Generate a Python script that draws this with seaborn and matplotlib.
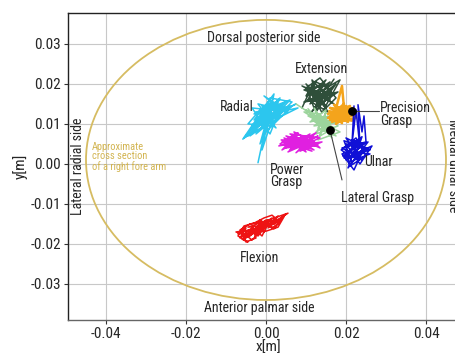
import numpy as np
import pandas as pd
import seaborn as sns
import matplotlib
import matplotlib.pyplot as plt
from matplotlib.patches import Ellipse
from matplotlib import font_manager

sns.set_style("whitegrid")
names = {f.name for f in font_manager.fontManager.ttflist}
fam = [f for f in ["Liberation Sans Narrow", "Roboto Condensed", "Open Sans Condensed", "Liberation Sans"] if f in names]
plt.rcParams["font.family"] = fam + ["DejaVu Sans"]

# trajectories (mm)
flex_x = [-7.0,-5.0,-6.5,-3.0,-5.5,-1.5,-4.0,0.0,-3.0,1.5,-1.0,3.0,0.5,5.0,2.0,4.0,-0.5,1.0,-2.5,-0.5,-4.5,-2.0,-6.0,-3.5,-1.0,-5.0,-7.5,-4.0,-2.0,0.0,2.5,0.0,-2.0,-4.5,5.5,1.0,
          -1.5,-4.0,-6.5,-5.0,-2.5,-3.5,-0.5,-1.5,1.5,3.5,1.5,-0.5,-3.0,-5.5,-7.0,-4.5,-6.0,-3.0,-1.0,0.5,2.0,4.5,3.0,0.0,-2.5,-4.5,-5.5]
flex_y = [-17.5,-16.0,-18.5,-15.5,-19.0,-15.0,-18.0,-14.5,-17.0,-13.5,-16.5,-13.0,-16.0,-12.5,-15.0,-13.8,-15.5,-14.0,-17.5,-15.0,-17.0,-16.0,-17.0,-19.0,-16.5,-18.0,-17.0,-16.5,-18.0,-15.5,-14.5,-14.0,-15.5,-15.8,-12.3,-15.2,
          -14.5,-15.0,-16.5,-19.5,-18.5,-16.0,-17.0,-14.0,-16.0,-14.5,-12.8,-13.5,-14.8,-15.5,-18.0,-19.5,-18.8,-16.2,-18.0,-15.0,-16.2,-13.2,-15.8,-16.8,-16.8,-18.2,-16.0]

rad_x = [-2.0,0.5,-4.5,3.0,-1.0,5.0,-3.0,2.0,0.0,6.5,-2.5,4.0,-5.5,1.0,-1.5,3.5,-3.5,7.5,0.0,2.5,-2.0,4.5,-4.0,1.5,-1.0,2.0,-3.0,6.0,0.5,-2.5,3.0,-0.5,5.5,-3.5,1.0,4.0,-1.5,8.0,
         3.0,-1.0,1.5,-4.5,-1.5,2.5,0.0,-3.0,-0.5,5.0,2.0,-2.0,1.0,6.5,3.5,-4.0,0.5,-1.0,-5.8,-2.5]
rad_y = [0.3,12.0,7.0,16.0,9.0,15.5,11.0,17.5,8.0,14.5,13.0,12.0,6.5,14.0,5.0,16.5,9.5,15.0,11.0,9.0,15.0,13.5,8.5,16.0,3.5,12.5,12.5,16.0,10.0,7.5,14.0,17.0,13.0,14.0,7.5,15.0,12.0,14.0,
         11.5,14.5,9.5,10.0,13.5,15.5,14.0,8.0,11.5,14.0,10.5,9.5,16.5,15.5,12.5,7.0,13.0,10.0,6.2,11.0]

ext_x = [9.0,12.0,10.0,15.0,11.0,17.5,12.5,14.0,9.5,16.0,11.5,13.0,18.0,10.5,15.5,12.0,17.0,9.0,14.5,11.0,16.5,13.5,10.0,15.0,12.5,18.5,14.0,11.5,16.0,13.0,9.5,15.5,12.0,
         10.5,14.0,16.5,12.0,10.0,13.5,17.5,15.0,11.0,13.0,16.0,14.5,10.5,12.5,15.5,17.0]
ext_y = [14.0,20.5,17.0,21.0,15.0,20.0,13.0,19.5,18.5,16.0,21.0,14.5,18.0,16.0,13.0,18.5,15.0,19.5,17.0,12.5,19.0,15.5,20.0,14.5,17.5,21.0,12.8,17.5,20.5,16.0,15.5,18.0,14.0,
         18.0,20.0,17.5,16.5,19.0,21.5,16.5,14.0,18.0,19.5,17.0,15.5,16.0,20.5,19.0,21.2]

lat_x = [7.5,12.0,10.0,16.0,12.5,18.0,11.0,15.0,13.5,17.0,11.5,16.5,14.0,19.0,12.0,15.5,13.0,18.5,10.5,17.0,14.5,12.0,16.0,13.5,
         9.5,14.5,11.5,17.5,13.0,15.0,12.5,18.0,16.5,14.0,10.5]
lat_y = [15.0,12.0,13.5,10.0,8.0,12.0,10.5,13.5,7.0,9.0,12.5,6.5,11.0,10.5,9.5,12.0,6.0,8.0,12.0,11.5,8.5,14.0,8.0,12.5,
         13.0,10.0,11.0,7.0,9.0,12.8,7.5,9.5,11.0,9.8,13.8]

pre_x = [15.5,21.0,16.0,21.5,17.0,20.5,16.5,22.0,17.5,19.5,15.5,21.0,18.0,22.0,16.5,20.0,18.5,21.5,17.0,19.0,19.5,22.5,18.0,20.5,16.0,21.0,
         17.5,20.0,16.5,21.5,18.5,19.0,15.8,20.8]
pre_y = [12.5,14.5,11.0,12.0,14.8,10.5,13.0,13.5,10.0,15.0,11.5,11.0,14.0,12.5,10.5,13.5,11.0,14.0,12.0,19.5,14.0,11.5,10.5,12.5,14.0,13.0,
         11.5,14.5,12.0,10.8,13.0,10.2,13.2,12.0]

uln_x = [22.0,21.5,22.5,23.5,23.0,24.0,24.5,25.0,19.0,24.0,20.0,26.0,19.5,23.0,20.5,25.5,19.0,22.0,24.5,20.0,23.5,26.5,21.0,18.8,22.5,25.0,21.0,20.0,24.0,22.0,26.0,20.5,
         23.0,19.5,21.5,25.5,22.5,20.0,24.5,21.5,23.5,19.2,22.0]
uln_y = [14.5,5.0,13.5,4.0,14.8,8.0,12.0,5.5,4.0,1.0,6.5,3.5,1.5,6.0,-1.0,5.5,2.5,-1.5,4.0,5.0,0.0,4.5,2.0,3.5,6.5,2.0,-0.5,4.0,6.8,1.0,2.5,3.0,
         4.5,5.8,0.5,3.8,2.5,1.0,5.0,6.0,1.5,2.0,3.8]

pow_x = [3.5,8.0,4.0,11.0,5.5,13.5,6.0,12.0,4.5,10.0,7.0,13.0,5.0,9.5,3.2,11.5,7.5,12.5,6.5,14.0,8.5,10.5,5.0,9.0,12.0,7.0,4.0,11.0,8.0,6.0,13.0,9.5,
         6.5,10.0,4.5,12.5,8.0,5.5,11.5,7.5,3.8,9.0,13.5,10.5]
pow_y = [5.0,7.8,3.5,7.5,3.0,6.5,7.5,3.5,6.5,3.0,8.0,5.0,4.0,7.0,4.5,6.0,2.8,7.8,4.5,5.5,3.2,5.5,7.0,4.0,5.8,6.0,5.5,4.2,6.5,3.5,7.0,5.0,
         6.8,3.8,4.8,4.5,7.5,5.8,3.2,4.5,6.0,6.0,4.0,7.0]

gestures = ["Radial", "Extension", "Lateral Grasp", "Precision Grasp", "Ulnar", "Power Grasp", "Flexion"]
xs = [rad_x, ext_x, lat_x, pre_x, uln_x, pow_x, flex_x]
ys = [rad_y, ext_y, lat_y, pre_y, uln_y, pow_y, flex_y]
colors = ["#2cc6ee", "#2f4f3a", "#9cd49c", "#f4a41c", "#1010d6", "#e020e0", "#ee1414"]

rows = []
for g, gx, gy in zip(gestures, xs, ys):
    for i, (a, b) in enumerate(zip(gx, gy)):
        rows.append((g, i, a / 1000.0, b / 1000.0))
df = pd.DataFrame(rows, columns=["gesture", "idx", "x", "y"])

dots_x = [21.5, 16.0]
dots_y = [13.2, 8.5]

fig = plt.figure(figsize=(4.55, 3.53), dpi=100)
ax = fig.add_axes([68/455, 1-320/353, 400/455, 307.3/353])

ax.add_patch(Ellipse((0.0, 0.001), 0.09, 0.07, fill=False, ec="#d6bc62", lw=1.3, zorder=1))

for g, c in zip(gestures, colors):
    sub = df[df.gesture == g]
    lw = 1.8 if g == "Precision Grasp" else 1.1
    sns.lineplot(data=sub, x="x", y="y", sort=False, estimator=None, color=c, lw=lw, ax=ax, zorder=3,
                 solid_joinstyle="round")

ax.scatter(np.array(dots_x)/1000, np.array(dots_y)/1000, s=28, color="black", zorder=5)
ax.plot([0.0215, 0.0283], [0.0132, 0.0132], color="#444444", lw=0.8, zorder=4)
ax.plot([0.0160, 0.0190], [0.0085, -0.0040], color="#444444", lw=0.8, zorder=4)

ax.set_xlim(-0.0495, 0.0505)
ax.set_ylim(-0.039, 0.0378)
ax.set_xticks([-0.04, -0.02, 0.0, 0.02, 0.04])
ax.set_yticks([-0.03, -0.02, -0.01, 0.0, 0.01, 0.02, 0.03])
ax.set_xticklabels(["-0.04", "-0.02", "0.00", "0.02", "0.04"])
ax.set_yticklabels(["-0.03", "-0.02", "-0.01", "0.00", "0.01", "0.02", "0.03"])
ax.tick_params(labelsize=11, length=3, color="#333333", left=True, bottom=True, pad=2)
ax.set_xlabel("x[m]", fontsize=11, labelpad=0)
ax.set_ylabel("y[m]", fontsize=11, labelpad=2)
ax.grid(True, color="#c8c8c8", lw=0.8)
for s in ["left", "top"]:
    ax.spines[s].set_color("#222222")
ax.spines["bottom"].set_color("#666666")
for s in ax.spines.values():
    s.set_linewidth(1.0)

fs = 10
ax.text(-0.0005, 0.0315, "Dorsal posterior side", ha="center", va="center", fontsize=fs)
ax.text(-0.0018, -0.0360, "Anterior palmar side", ha="center", va="center", fontsize=fs)
ax.text(-0.0470, -0.0005, "Lateral radial side", ha="center", va="center", rotation=90, fontsize=fs)
ax.text(0.0468, -0.0005, "Medial ulnar side", ha="center", va="center", rotation=-90, fontsize=fs)
ax.text(0.0140, 0.0238, "Extension", ha="center", va="center", fontsize=fs)
ax.text(-0.0030, 0.0143, "Radial", ha="right", va="center", fontsize=fs)
ax.text(0.0285, 0.0124, "Precision\nGrasp", ha="left", va="center", fontsize=fs, linespacing=0.9)
ax.text(0.0245, 0.0005, "Ulnar", ha="left", va="center", fontsize=fs)
ax.text(0.0010, -0.0030, "Power\nGrasp", ha="left", va="center", fontsize=fs, linespacing=0.9)
ax.text(0.0188, -0.0085, "Lateral Grasp", ha="left", va="center", fontsize=fs)
ax.text(-0.0015, -0.0235, "Flexion", ha="center", va="center", fontsize=fs)
ax.text(-0.0435, 0.0018, "Approximate\ncross section\nof a right fore arm", ha="left", va="center",
        fontsize=7.5, color="#d2b450", linespacing=0.95)

fig.savefig("out.png", dpi=100)
